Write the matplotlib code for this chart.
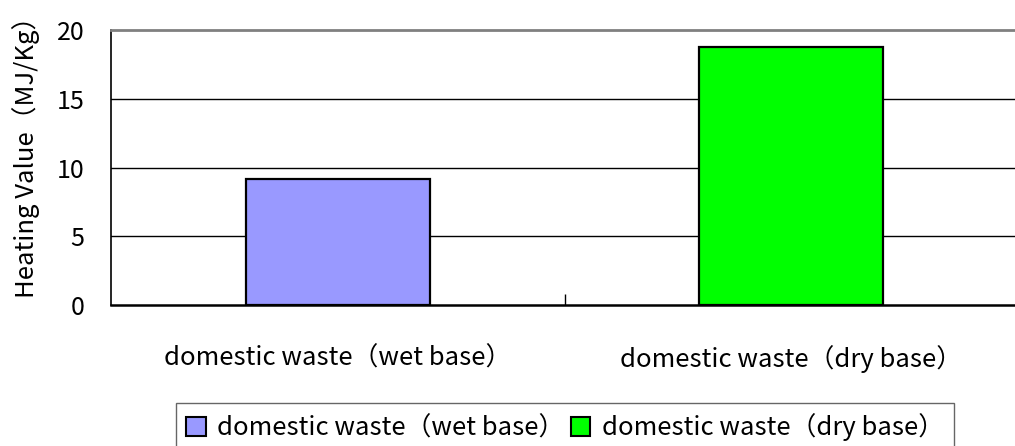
import matplotlib
matplotlib.use("Agg")
import matplotlib.pyplot as plt
from matplotlib.patches import Patch
from matplotlib.ticker import FixedLocator

plt.rcParams['font.family'] = ['Noto Sans CJK JP', 'DejaVu Sans']

categories = ["domestic waste（wet base）", "domestic waste（dry base）"]
values = [9.2, 18.8]
colors = ["#9999FF", "#00FF00"]
yticks = [0, 5, 10, 15, 20]
ylabel = "Heating Value（MJ/Kg）"

fig = plt.figure(figsize=(10.15, 4.46), dpi=100)
ax = fig.add_axes([111/1015, 1 - 305/446, (1018 - 111)/1015, (305 - 30)/446])

x = list(range(len(categories)))
ax.bar(x, values, width=0.405, color=colors, edgecolor="black", linewidth=1.6, zorder=3)

ax.set_xlim(-0.5, len(categories) - 0.5)
ax.set_ylim(0, 20)
ax.set_yticks(yticks)
ax.set_yticklabels([str(t) for t in yticks], fontsize=18)
ax.yaxis.set_tick_params(length=0, pad=19)
ax.set_xticks(x)
ax.set_xticklabels(categories, fontsize=18.5)
ax.xaxis.set_tick_params(length=0, pad=29)
ax.xaxis.set_minor_locator(FixedLocator([0.5]))
ax.xaxis.set_tick_params(which='minor', direction='in', length=8, width=1, color='black')

for t in yticks[1:-1]:
    ax.axhline(t, color='black', linewidth=1, zorder=1)

ax.spines['top'].set_color('#808080')
ax.spines['top'].set_linewidth(2)
ax.spines['right'].set_visible(False)
ax.spines['left'].set_color('black')
ax.spines['left'].set_linewidth(1.2)
ax.spines['bottom'].set_color('black')
ax.spines['bottom'].set_linewidth(1.8)

ax.set_ylabel(ylabel, fontsize=18.5)
ax.yaxis.set_label_coords((40 - 111) / 907, (305 - 151) / 275)

handles = [Patch(facecolor=c, edgecolor='black', linewidth=1.5, label=l) for c, l in zip(colors, categories)]
leg = fig.legend(handles=handles, loc='upper left', bbox_to_anchor=(176/1015, 1 - 403/446),
                 ncol=2, fontsize=18.5, frameon=True, fancybox=False, edgecolor='#404040',
                 handlelength=0.75, handleheight=0.75, handletextpad=0.45, columnspacing=0.25,
                 borderpad=0.4, borderaxespad=0)
leg.get_frame().set_linewidth(1)

fig.savefig("out.png", dpi=100)
